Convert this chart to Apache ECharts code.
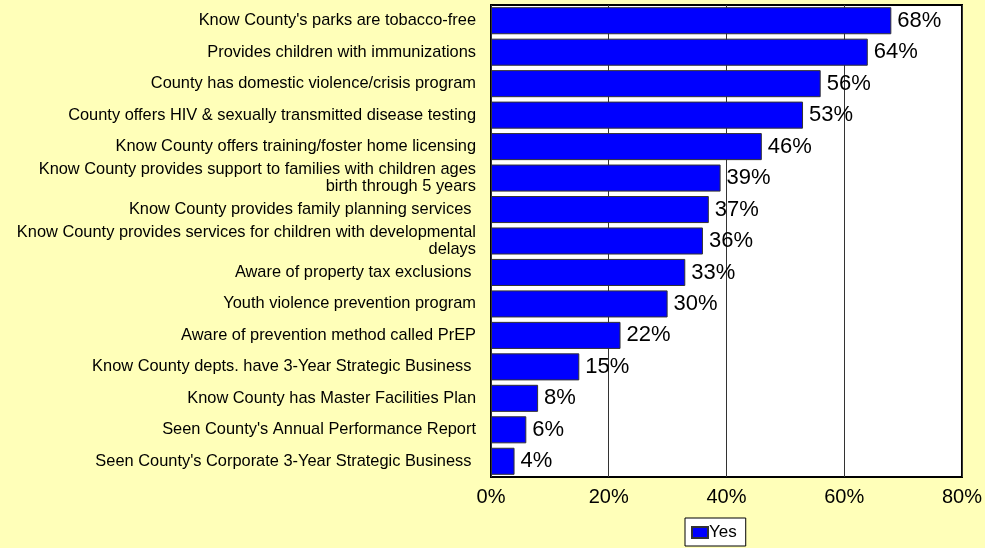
<!DOCTYPE html>
<html>
<head>
<meta charset="utf-8">
<script src="https://cdn.jsdelivr.net/npm/echarts@6/dist/echarts.min.js"></script>
<style>
html,body{margin:0;padding:0;background:#FFFFB9;}
#c{width:985px;height:548px;}
</style>
</head>
<body>
<div id="c"></div>
<script>
const categories = [
  "Know County's parks are tobacco-free",
  "Provides children with immunizations",
  "County has domestic violence/crisis program",
  "County offers HIV & sexually transmitted disease testing",
  "Know County offers training/foster home licensing",
  "Know County provides support to families with children ages\nbirth through 5 years",
  "Know County provides family planning services ",
  "Know County provides services for children with developmental\ndelays",
  "Aware of property tax exclusions ",
  "Youth violence prevention program",
  "Aware of prevention method called PrEP",
  "Know County depts. have 3-Year Strategic Business ",
  "Know County has Master Facilities Plan",
  "Seen County's Annual Performance Report",
  "Seen County's Corporate 3-Year Strategic Business "
];
const yesValues = [68, 64, 56, 53, 46, 39, 37, 36, 33, 30, 22, 15, 8, 6, 4];
const seriesName = "Yes";
const axisMin = 0, axisMax = 80, axisStep = 20;

const chart = echarts.init(document.getElementById('c'), null, {renderer: 'canvas'});
const font = "'Liberation Sans', Arial, sans-serif";
chart.setOption({
  backgroundColor: '#FFFFB9',
  animation: false,
  textStyle: {fontFamily: font},
  grid: {
    left: 491, top: 5, right: 22, bottom: 71,
    show: true, backgroundColor: '#ffffff', borderColor: '#000000', borderWidth: 2,
    containLabel: false
  },
  legend: {
    data: [seriesName],
    left: 685, top: 518,
    icon: 'rect',
    itemWidth: 16, itemHeight: 11, itemGap: 4,
    backgroundColor: '#ffffff', borderColor: '#000000', borderWidth: 1,
    padding: [6, 9, 5, 6],
    textStyle: {fontSize: 17, color: '#000', fontFamily: font, padding: [0, 0, 0, -4]}
  },
  xAxis: {
    type: 'value', min: axisMin, max: axisMax, interval: axisStep,
    axisLine: {show: false}, axisTick: {show: false},
    splitLine: {show: true, lineStyle: {color: '#333', width: 1}},
    axisLabel: {formatter: '{value}%', fontSize: 20, color: '#000', margin: 10, fontFamily: font}
  },
  yAxis: {
    type: 'category', data: categories, inverse: true,
    axisLine: {show: false}, axisTick: {show: false},
    axisLabel: {fontSize: 16.4, color: '#000', margin: 15, lineHeight: 17, align: 'right', fontFamily: font, padding: [4, 0, 0, 0]}
  },
  series: [{
    name: seriesName, type: 'bar', data: yesValues,
    barCategoryGap: '14%',
    itemStyle: {color: '#0000FF', borderColor: '#333333', borderWidth: 1},
    label: {show: true, position: 'right', distance: 6, formatter: '{c}%', fontSize: 22, color: '#000', fontFamily: font}
  }]
});
</script>
</body>
</html>
